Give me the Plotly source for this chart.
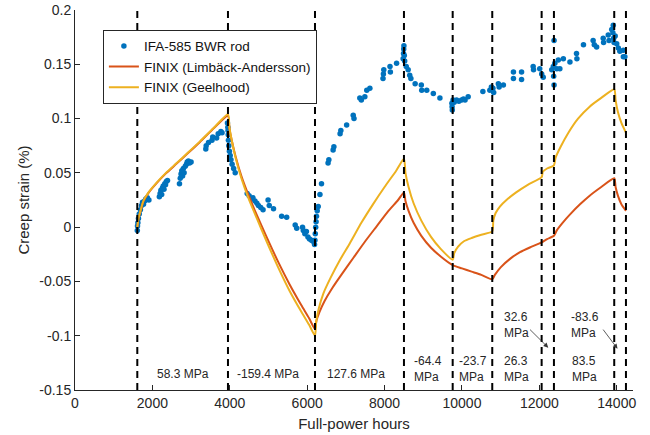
import plotly.graph_objects as go

# Measured creep strain, IFA-585 BWR rod
data_hours = [1610, 1615, 1625, 1640, 1660, 1690, 1720, 1745, 1770, 1800, 1830, 1870, 1910,
              2180, 2200, 2220, 2240, 2260, 2280, 2300, 2320, 2340, 2360, 2390,
              2700, 2720, 2740, 2760, 2780, 2800, 2820, 2850, 2880, 2900, 2930, 2960, 3000,
              3380, 3390, 3450, 3540, 3560, 3660, 3700, 3770, 3800, 3940, 3950, 3955, 3960, 3965,
              3975, 3990, 4010, 4030, 4060, 4100, 4140, 4450, 4500, 4560, 4600, 4650, 4700, 4740,
              4800, 4860, 4990, 5020, 5130, 5340, 5470, 5690, 5730, 5880, 5900, 5940, 5980, 6020,
              6060, 6110, 6150, 6190, 6200,
              6210, 6220, 6230, 6240, 6260, 6285, 6330, 6370, 6540, 6560, 6670, 6690, 6850, 6870,
              7020, 7190, 7210, 7360, 7400, 7490, 7540, 7620, 7960, 7970, 7980, 8140, 8150, 8310,
              8480, 8490, 8495, 8500, 8510, 8520,
              8560, 8610, 8650, 8680, 8790, 8950, 8960, 9090, 9260, 9430,
              9740, 9745, 9750, 9770, 9800, 9860, 9920, 9990, 10040, 10080, 10160, 10540, 10720,
              10760, 10800, 10820,
              10940, 10960, 11070, 11330, 11330, 11540, 11540, 11840, 11850, 12010, 12060, 12100,
              12320, 12360, 12370, 12380, 12380, 12400, 12450,
              12490, 12530, 12620, 12790, 12960, 12970, 13140, 13390, 13420, 13480, 13650, 13660,
              13780, 13800, 13870, 13900, 13910, 13920, 13930,
              13960, 14000, 14040, 14080, 14170, 14170, 14210]
data_strain = [-0.003, 0.001, 0.004, 0.008, 0.012, 0.016, 0.020, 0.023, 0.021, 0.024, 0.026, 0.027, 0.025,
               0.028, 0.031, 0.034, 0.030, 0.036, 0.038, 0.035, 0.040, 0.039, 0.042, 0.043,
               0.040, 0.045, 0.049, 0.052, 0.047, 0.054, 0.050, 0.056, 0.058, 0.060, 0.061, 0.059, 0.060,
               0.072, 0.075, 0.078, 0.080, 0.083, 0.082, 0.086, 0.088, 0.087, 0.096, 0.092, 0.089, 0.085, 0.080,
               0.075, 0.070, 0.066, 0.062, 0.058, 0.054, 0.050, 0.031, 0.029, 0.026, 0.027, 0.024, 0.022, 0.020,
               0.018, 0.016, 0.025, 0.020, 0.017, 0.010, 0.009, 0.002, -0.001, 0.000, -0.003, -0.006, -0.004, -0.009,
               -0.011, -0.012, -0.013, -0.016, -0.012,
               -0.006, 0.000, 0.005, 0.010, 0.015, 0.019, 0.030, 0.040, 0.059, 0.062, 0.071, 0.074, 0.086, 0.089,
               0.094, 0.103, 0.100, 0.119, 0.117, 0.120, 0.126, 0.128, 0.137, 0.141, 0.145, 0.148, 0.143, 0.151,
               0.155, 0.160, 0.164, 0.167, 0.158, 0.153,
               0.148, 0.145, 0.140, 0.137, 0.132, 0.131, 0.126, 0.126, 0.123, 0.119,
               0.114, 0.111, 0.108, 0.117, 0.115, 0.117, 0.116, 0.117, 0.118, 0.117, 0.120, 0.125, 0.126,
               0.129, 0.128, 0.124,
               0.132, 0.129, 0.131, 0.143, 0.137, 0.143, 0.136, 0.148, 0.145, 0.146, 0.141, 0.138,
               0.145, 0.148, 0.139, 0.131, 0.172, 0.151, 0.146,
               0.154, 0.146, 0.155, 0.152, 0.160, 0.155, 0.168, 0.172, 0.168, 0.166, 0.174, 0.170,
               0.177, 0.172, 0.182, 0.179, 0.186, 0.174, 0.170,
               0.176, 0.169, 0.165, 0.162, 0.163, 0.157, 0.157]

# FINIX, Limbäck-Andersson creep model
la_hours = [1610, 1640, 1700, 1765, 1900, 2110, 2350, 2627, 2900, 3230, 3600, 3953,
            3990, 4050, 4150, 4300, 4500, 4700, 4950, 5250, 5550, 5850, 6050, 6202,
            6240, 6320, 6450, 6650, 6900, 7200, 7500, 7800, 8100, 8350, 8501,
            8540, 8620, 8750, 8950, 9200, 9450, 9760,
            10000, 10250, 10500, 10783,
            10850, 11000, 11250, 11500, 11800, 12059,
            12200, 12377,
            12450, 12600, 12800, 13050, 13300, 13600, 13935,
            13970, 14030, 14120, 14238]
la_strain = [0.000, 0.0075, 0.0155, 0.0235, 0.0315, 0.0405, 0.0495, 0.0585, 0.0675, 0.0785, 0.0915, 0.1025,
             0.091, 0.080, 0.065, 0.047, 0.028, 0.011, -0.009, -0.032, -0.053, -0.072, -0.084, -0.094,
             -0.086, -0.078, -0.068, -0.056, -0.043, -0.028, -0.013, 0.001, 0.015, 0.025, 0.032,
             0.024, 0.015, 0.004, -0.008, -0.019, -0.027, -0.035,
             -0.038, -0.041, -0.044, -0.048,
             -0.044, -0.037, -0.029, -0.023, -0.018, -0.014,
             -0.011, -0.008,
             -0.003, 0.004, 0.012, 0.021, 0.029, 0.037, 0.045,
             0.037, 0.029, 0.021, 0.015]

# FINIX, Geelhood creep model
gh_hours = [1610, 1640, 1700, 1765, 1900, 2110, 2350, 2627, 2900, 3230, 3600, 3953,
            3990, 4050, 4150, 4300, 4500, 4700, 4950, 5250, 5550, 5850, 6050, 6202,
            6230, 6300, 6420, 6600, 6850, 7100, 7400, 7700, 8000, 8300, 8501,
            8540, 8620, 8750, 8950, 9200, 9450, 9760,
            9800, 9900, 10050, 10250, 10500, 10783,
            10810, 10870, 10980, 11150, 11400, 11700, 12059,
            12090, 12200, 12377,
            12420, 12550, 12750, 13000, 13300, 13600, 13935,
            13970, 14030, 14120, 14238]
gh_strain = [0.000, 0.008, 0.016, 0.024, 0.032, 0.041, 0.050, 0.059, 0.068, 0.079, 0.092, 0.104,
             0.092, 0.080, 0.064, 0.045, 0.025, 0.008, -0.013, -0.037, -0.059, -0.078, -0.090, -0.100,
             -0.088, -0.075, -0.061, -0.047, -0.030, -0.015, 0.004, 0.021, 0.037, 0.052, 0.063,
             0.050, 0.037, 0.022, 0.006, -0.009, -0.020, -0.030,
             -0.024, -0.018, -0.013, -0.010, -0.007, -0.004,
             0.006, 0.013, 0.019, 0.025, 0.032, 0.039, 0.046,
             0.051, 0.054, 0.057,
             0.064, 0.074, 0.087, 0.100, 0.111, 0.119, 0.127,
             0.117, 0.106, 0.096, 0.087]

# Hours at which the applied stress changes
stress_changes = [1610, 3953, 6202, 8501, 9760, 10783, 12059, 12377, 13935, 14238]

# Stress labels placed inside each interval
stress_labels = ["58.3 MPa", "-159.4 MPa", "127.6 MPa", "-64.4<br>MPa", "-23.7<br>MPa",
                 "26.3<br>MPa", "83.5<br>MPa"]
stress_label_x = [2780, 5000, 7250, 9110, 10290, 11400, 13160]
stress_label_y = [-0.135, -0.135, -0.135, -0.131, -0.131, -0.131, -0.131]

# Labels for the two short intervals, pointing with arrows
arrow_labels = ["32.6<br>MPa", "-83.6<br>MPa"]
arrow_label_x = [11420, 13180]
arrow_tail = [(11720, -0.093), (13620, -0.093)]
arrow_head = [(12230, -0.111), (14020, -0.112)]

x_ticks = [0, 2000, 4000, 6000, 8000, 10000, 12000, 14000]
y_ticks = [-0.15, -0.1, -0.05, 0, 0.05, 0.1, 0.15, 0.2]

AX = "#262626"
FONT = "Liberation Sans, Arial, Helvetica, sans-serif"

fig = go.Figure()

fig.add_trace(go.Scatter(
    x=data_hours, y=data_strain, mode="markers", name="IFA-585 BWR rod",
    marker=dict(color="#0072BD", size=5.5, line=dict(width=0)),
))
fig.add_trace(go.Scatter(
    x=la_hours, y=la_strain, mode="lines", name="FINIX (Limbäck-Andersson)",
    line=dict(color="#D95319", width=2, shape="spline", smoothing=0.6),
))
fig.add_trace(go.Scatter(
    x=gh_hours, y=gh_strain, mode="lines", name="FINIX (Geelhood)",
    line=dict(color="#EDB120", width=2, shape="spline", smoothing=0.6),
))

shapes = []
for h in stress_changes:
    shapes.append(dict(type="line", xref="x", yref="y", x0=h, x1=h, y0=-0.15, y1=0.2,
                       line=dict(color="black", width=2, dash="7px,5px"), layer="above"))

annotations = []
for txt, xv, yv in zip(stress_labels, stress_label_x, stress_label_y):
    annotations.append(dict(x=xv, y=yv, xref="x", yref="y", text=txt, showarrow=False,
                            align="left", font=dict(size=12, color=AX, family=FONT)))
for txt, xv, tail, head in zip(arrow_labels, arrow_label_x, arrow_tail, arrow_head):
    annotations.append(dict(x=xv, y=-0.0905, xref="x", yref="y", text=txt, showarrow=False,
                            align="left", font=dict(size=12, color=AX, family=FONT)))
    annotations.append(dict(x=head[0], y=head[1], ax=tail[0], ay=tail[1],
                            xref="x", yref="y", axref="x", ayref="y", text="",
                            showarrow=True, arrowhead=2, arrowsize=1.2, arrowwidth=0.8,
                            arrowcolor="#333333"))

fig.update_layout(
    width=650, height=435,
    margin=dict(l=75, r=17, t=10, b=45, autoexpand=False),
    paper_bgcolor="white", plot_bgcolor="white",
    font=dict(family=FONT, color=AX, size=14),
    showlegend=True,
    legend=dict(x=0.05, y=0.948, xanchor="left", yanchor="top",
                bgcolor="white", bordercolor=AX, borderwidth=1,
                font=dict(size=13.5, color="#111111", family=FONT),
                itemwidth=30, tracegroupgap=0),
    shapes=shapes,
    annotations=annotations,
)

fig.update_xaxes(
    range=[0, 14420], tickvals=x_ticks, ticktext=[str(v) for v in x_ticks],
    ticks="inside", ticklen=5, tickcolor=AX, showline=True, linecolor=AX, linewidth=1,
    showgrid=False, zeroline=False, mirror=False, automargin=False,
    tickfont=dict(size=14, color=AX),
    title=dict(text="Full-power hours", font=dict(size=15, color=AX), standoff=8),
)
fig.update_yaxes(
    range=[-0.15, 0.2], tickvals=y_ticks, ticktext=[f"{v:g}" for v in y_ticks],
    ticks="inside", ticklen=5, tickcolor=AX, showline=True, linecolor=AX, linewidth=1,
    showgrid=False, zeroline=False, mirror=False, automargin=False,
    tickfont=dict(size=14, color=AX),
    title=dict(text="Creep strain (%)", font=dict(size=15, color=AX), standoff=6),
)

fig.write_html("out.html")
